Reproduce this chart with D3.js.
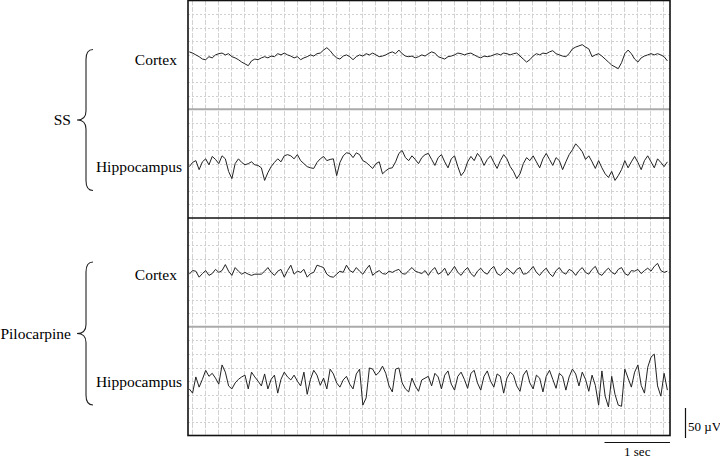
<!DOCTYPE html>
<html>
<head>
<meta charset="utf-8">
<script src="https://cdn.jsdelivr.net/npm/d3@7"></script>
<style>
  body { margin: 0; background: #fff; }
  text { font-family: "Liberation Serif", "Times New Roman", serif; fill: #000; }
</style>
</head>
<body>
<svg id="chart" width="720" height="459"></svg>
<script>
// sampling of the traces (seconds)
var t0 = 0.02, dt = 0.05, duration = 7.36;

var groups = ['SS', 'Pilocarpine'];
var channels = ['Cortex', 'Hippocampus'];

// amplitudes in microvolts, one value every dt
var ssCortex = [5,3,0,-3,-7,-8,-3,-5,0,2, 3,0,2,-3,-5,-8,-12,-15,-18,-10,
  -7,-8,-5,-3,-5,-2,-3,2,0,3, 0,-2,-5,-3,-8,-5,-3,0,-2,2,
  3,8,12,7,0,-5,-7,-2,0,-3, -8,-3,0,-2,2,0,3,0,-3,-2,
  0,3,5,2,8,2,-2,-3,-2,-5, -3,0,-2,2,5,3,-3,-5,-7,-3,
  -2,0,3,2,0,2,3,0,-3,-5, -2,-3,-2,0,2,0,3,2,0,2,
  3,-2,-7,-12,-8,-2,2,0,3,2, 5,7,2,0,-2,-3,2,10,13,15,
  17,13,10,-3,0,2,-2,-7,-12,-17, -20,-23,-13,2,8,2,-7,-12,-5,-2,
  0,2,0,2,0,-3,-10];

var ssHippo = [-5,2,5,-10,3,8,-2,12,7,0, 13,8,-13,-25,0,8,2,-2,0,3,
  -2,-3,-7,-28,-15,-5,2,8,3,13, 15,13,8,15,5,0,-5,-7,-8,2,
  8,12,5,7,8,-20,2,13,18,17, 10,18,15,5,2,-3,-8,0,3,-17,
  -12,-8,-7,3,17,22,10,5,13,7, 0,10,15,17,7,-3,10,15,3,-7,
  8,13,-5,-20,-13,3,12,5,17,10, -3,7,13,2,-8,5,15,8,-5,-13,
  -25,-17,0,10,5,13,3,-7,8,17, 7,-3,10,5,-10,3,15,23,33,27,
  20,7,13,3,-8,5,-7,-17,-23,-13, -28,-20,-10,5,-7,3,12,2,-10,5,
  13,3,-7,8,2,-5,3];

var piloCortex = [-3,3,2,-8,-2,3,-5,-2,5,0, 3,13,2,-5,8,2,-3,0,-3,-5,
  -3,-3,-3,2,8,0,-5,2,5,-8, 3,12,-3,2,0,5,-8,-2,0,12,
  10,8,-3,-7,-8,-3,2,0,12,3, 0,8,2,-3,5,12,-5,0,3,-2,
  -3,2,0,3,5,-2,-3,3,8,2, 0,-2,3,-5,3,8,-3,0,7,-5,
  2,10,0,-5,3,8,-2,-7,2,7, 0,-3,5,10,-2,-5,0,7,2,-3,
  5,8,-3,-2,3,10,0,-5,2,7, -2,-7,3,8,0,-3,5,2,-5,3,
  8,0,-3,5,10,-2,-5,2,7,0, -3,5,8,-2,-5,3,2,5,-2,3,
  7,2,10,15,3,0,2];

var piloHippo = [-13,-20,7,-10,3,18,8,13,5,-5, 27,15,-8,-13,-3,3,7,10,-13,15,
  7,0,-8,12,-13,3,10,-20,3,15, 7,2,10,0,-8,15,-22,3,18,10,
  -7,5,-13,20,12,-3,-10,2,8,-5, -13,12,20,-40,-28,22,20,10,15,25,
  13,-8,-18,20,22,-3,-13,-18,5,-8, -17,2,5,8,-8,13,7,-13,10,17,
  -5,-15,8,15,3,-12,13,18,-3,-15, 8,17,0,-10,12,8,-20,5,15,10,
  -8,-17,10,18,-3,-13,10,5,-18,8, 18,3,-12,13,8,-15,7,20,12,-8,
  15,3,-17,10,-7,-40,17,-25,-43,8, -22,-40,-42,20,5,-10,15,27,-7,-20,
  23,40,45,-8,-25,13,-15];

var traces = [ssCortex, ssHippo, piloCortex, piloHippo];

var scaleUV = 50;   // vertical calibration bar
var scaleSec = 1;   // time calibration bar

var svg = d3.select('#chart');
var plotL = 188, plotR = 670, plotT = 0.5, plotB = 435.5;

var x = d3.scaleLinear().domain([0, duration]).range([plotL, plotR]);
var row = d3.scaleBand().domain(d3.range(traces.length)).range([plotT, plotB]);
var amp = d3.scaleLinear().domain([-90, 90]).range([row.bandwidth() / 2 + 54, row.bandwidth() / 2 - 54]);
var gridY = d3.scaleLinear().domain([0, 8]).range([0, row.bandwidth()]);

// chart paper grid
var grid = svg.append('g');
grid.selectAll('line.v').data(d3.range(0.06, duration, 0.2)).enter()
  .append('line').attr('class', 'v')
  .attr('x1', function (d) { return Math.round(x(d)) + 0.5; })
  .attr('x2', function (d) { return Math.round(x(d)) + 0.5; })
  .attr('y1', plotT).attr('y2', plotB)
  .attr('stroke', '#d2d2d2').attr('stroke-width', 1).attr('stroke-dasharray', '5,1.5');

traces.forEach(function (vals, i) {
  grid.selectAll('line.h' + i).data(d3.range(1, 8)).enter()
    .append('line').attr('class', 'h' + i)
    .attr('x1', plotL).attr('x2', plotR)
    .attr('y1', function (d) { return Math.round(row(i) + gridY(d)) + 0.5; })
    .attr('y2', function (d) { return Math.round(row(i) + gridY(d)) + 0.5; })
    .attr('stroke', '#d0d0d0').attr('stroke-width', 1).attr('stroke-dasharray', '2,2');
});

// separators: gray between channels, black between conditions
[1, 3].forEach(function (i) {
  svg.append('line').attr('x1', plotL).attr('x2', plotR)
    .attr('y1', row(i)).attr('y2', row(i))
    .attr('stroke', '#aaaaaa').attr('stroke-width', 2);
});
svg.append('line').attr('x1', plotL).attr('x2', plotR)
  .attr('y1', row(2)).attr('y2', row(2))
  .attr('stroke', '#111').attr('stroke-width', 1.6);

svg.append('rect').attr('x', plotL).attr('y', plotT)
  .attr('width', plotR - plotL).attr('height', plotB - plotT)
  .attr('fill', 'none').attr('stroke', '#111').attr('stroke-width', 1.6);

// traces
var line = d3.line()
  .x(function (d, j) { return x(t0 + j * dt); })
  .y(function (d) { return amp(d); });

traces.forEach(function (vals, i) {
  svg.append('path').datum(vals)
    .attr('transform', 'translate(0,' + row(i) + ')')
    .attr('d', line)
    .attr('fill', 'none').attr('stroke', '#222').attr('stroke-width', 1)
    .attr('stroke-linejoin', 'round');
});

// channel labels
var labelDy = [10, 8.5, 8, 6];
traces.forEach(function (vals, i) {
  var name = channels[i % 2];
  svg.append('text')
    .attr('x', name === 'Cortex' ? plotL - 11 : plotL - 6)
    .attr('y', row(i) + row.bandwidth() / 2 + labelDy[i])
    .attr('text-anchor', 'end').attr('font-size', 15.5)
    .text(name);
});

// condition braces and labels
groups.forEach(function (g, k) {
  var y0 = row(k * 2) + 49 - (k ? 5 : 0);
  var y1 = row(k * 2) + 190 - (k ? 3 : 0);
  var ym = (y0 + y1) / 2;
  var bx = 86, tip = 77, end = 93;
  var p = 'M' + end + ',' + y0 +
    ' Q' + bx + ',' + y0 + ' ' + bx + ',' + (y0 + 10) +
    ' L' + bx + ',' + (ym - 9) +
    ' Q' + bx + ',' + ym + ' ' + tip + ',' + ym +
    ' Q' + bx + ',' + ym + ' ' + bx + ',' + (ym + 9) +
    ' L' + bx + ',' + (y1 - 10) +
    ' Q' + bx + ',' + y1 + ' ' + end + ',' + y1;
  svg.append('path').attr('d', p)
    .attr('fill', 'none').attr('stroke', '#222').attr('stroke-width', 1.1);
  svg.append('text').attr('x', 71).attr('y', ym + 5)
    .attr('text-anchor', 'end').attr('font-size', 15.5)
    .text(g);
});

// calibration bars
var barLen = amp(0) - amp(scaleUV);
svg.append('line').attr('x1', 685.5).attr('x2', 685.5)
  .attr('y1', 438 - barLen).attr('y2', 438)
  .attr('stroke', '#111').attr('stroke-width', 1.2);
svg.append('text').attr('x', 688).attr('y', 431)
  .attr('font-size', 13).text('50 \u00b5V');

svg.append('line')
  .attr('x1', x(duration - scaleSec)).attr('x2', x(duration))
  .attr('y1', 442.5).attr('y2', 442.5)
  .attr('stroke', '#111').attr('stroke-width', 1.2);
svg.append('text').attr('x', (x(duration - scaleSec) + x(duration)) / 2).attr('y', 456)
  .attr('text-anchor', 'middle').attr('font-size', 13).text('1 sec');
</script>
</body>
</html>
